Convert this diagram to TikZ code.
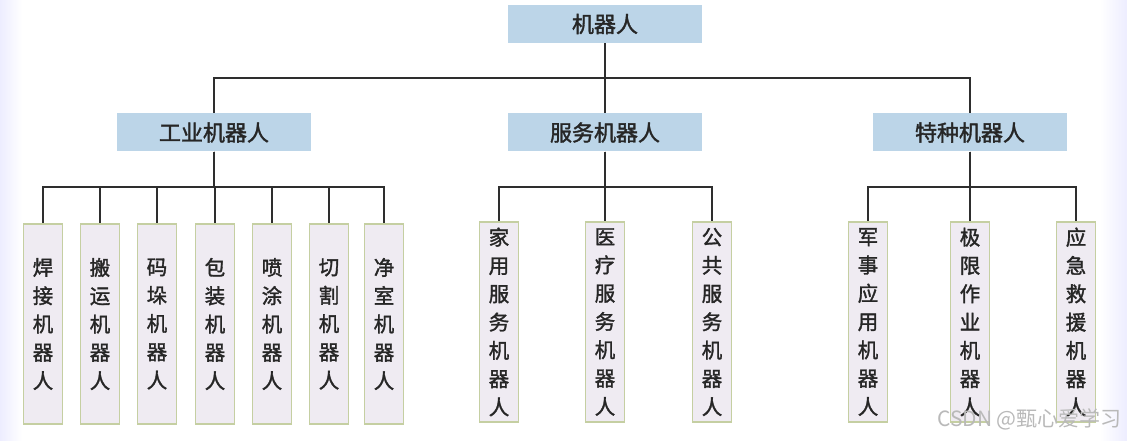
\documentclass[tikz,border=0pt]{standalone}
\usepackage{fontspec}
\setmainfont{Noto Sans CJK SC}
\newfontfamily\heavycjk{Noto Sans CJK SC}[FakeBold=1.6]
\definecolor{boxblue}{HTML}{BCD5E8}
\definecolor{leaffill}{HTML}{EFEBF2}
\definecolor{leafline}{HTML}{C5CFA2}
\definecolor{linkgray}{HTML}{2E2E2E}
\tikzset{
  head/.style={fill=boxblue, minimum width=194pt, minimum height=38pt,
    inner sep=0pt, text=black!85, font=\heavycjk\fontsize{22}{26}\selectfont},
  leaf/.style={fill=leaffill, draw=leafline, line width=1.5pt,
    minimum width=39pt, minimum height=200pt, inner sep=0pt, text=black!85,
    align=center, font=\heavycjk\fontsize{20.5}{28.3}\selectfont},
  link/.style={draw=linkgray, line width=1.8pt}
}
\begin{document}
\begin{tikzpicture}[x=1pt, y=-1pt]
  \useasboundingbox (0,0) rectangle (1127,441);
  \fill[left color=blue!7, right color=white] (0,0) rectangle (22,441);
  \fill[left color=white, right color=blue!7] (1100,0) rectangle (1127,441);

  % top and second level
  \node[head] (robot) at (605,24) {机器人};
  \node[head] (ind)  at (214,132.5) {工业机器人};
  \node[head] (serv) at (605,132.5) {服务机器人};
  \node[head] (spec) at (970,132.5) {特种机器人};

  \draw[link] (robot.south) -- ++(0,35) -| (ind.north);
  \draw[link] (robot.south) -- ++(0,35) -| (spec.north);
  \draw[link] (robot.south) -- (serv.north);

  % industrial robots
  \foreach \x/\name/\txt in {43/weld/{焊\\接\\机\\器\\人},
      100/carry/{搬\\运\\机\\器\\人}, 157/stack/{码\\垛\\机\\器\\人},
      215/pack/{包\\装\\机\\器\\人}, 272/spray/{喷\\涂\\机\\器\\人},
      329/cut/{切\\割\\机\\器\\人}, 384/clean/{净\\室\\机\\器\\人}}{
    \node[leaf] (\name) at (\x,324) {\txt};
    \draw[link] (ind.south) -- ++(0,35) -| (\name.north);
  }

  % service robots
  \foreach \x/\name/\txt in {499/home/{家\\用\\服\\务\\机\\器\\人},
      605/med/{医\\疗\\服\\务\\机\\器\\人},
      712/pub/{公\\共\\服\\务\\机\\器\\人}}{
    \node[leaf] (\name) at (\x,322) {\txt};
    \draw[link] (serv.south) -- ++(0,35) -| (\name.north);
  }

  % special robots
  \foreach \x/\name/\txt in {868/mil/{军\\事\\应\\用\\机\\器\\人},
      970/ext/{极\\限\\作\\业\\机\\器\\人},
      1076/resc/{应\\急\\救\\援\\机\\器\\人}}{
    \node[leaf] (\name) at (\x,322) {\txt};
    \draw[link] (spec.south) -- ++(0,35) -| (\name.north);
  }

  \node[text=gray!55, font=\fontsize{21}{24}\selectfont, anchor=east,
    inner sep=0pt] (mark) at (1122,419) {CSDN @甄心爱学习};
\end{tikzpicture}
\end{document}
